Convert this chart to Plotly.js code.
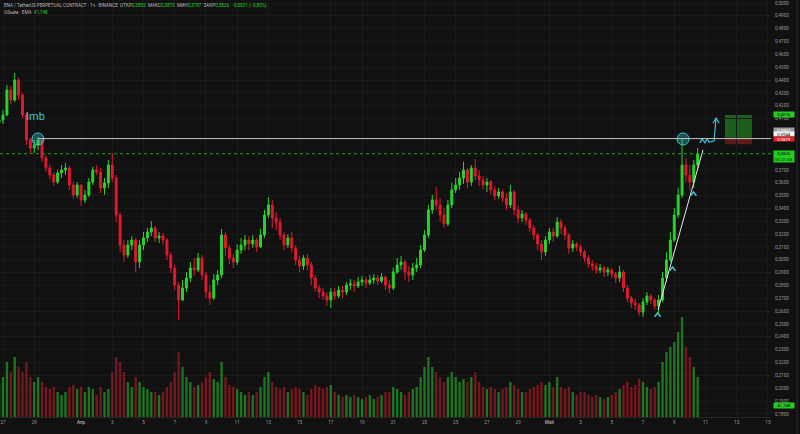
<!DOCTYPE html>
<html><head><meta charset="utf-8">
<script src="https://cdn.plot.ly/plotly-3.0.1.min.js"></script>
<style>html,body{margin:0;padding:0;background:#111111;}#chart{width:800px;height:434px;}</style>
</head><body><div id="chart"></div>
<script>
// ---- data (6h candles, ENA/USDT) ----
const startTimeUTC = [2025, 2, 26, 18];
const candleHours = 6;
const firstOpen = 0.4070;
const closes = [
0.4089,0.4128,0.4322,0.4245,0.4400,0.4283,0.4128,0.3933,0.3871,0.3894,
0.3933,0.3793,0.3715,0.3660,0.3606,0.3676,0.3699,0.3715,0.3583,0.3505,
0.3583,0.3466,0.3505,0.3606,0.3699,0.3684,0.3559,0.3598,0.3738,0.3637,
0.3349,0.3115,0.3037,0.3115,0.3154,0.2983,0.3115,0.3170,0.3217,0.3248,
0.3170,0.3185,0.3154,0.3037,0.2936,0.2804,0.2687,0.2780,0.2858,0.2936,
0.2921,0.3014,0.2882,0.2749,0.2702,0.2843,0.2882,0.3193,0.3092,0.3014,
0.2983,0.3076,0.3115,0.3154,0.3123,0.3154,0.3100,0.3193,0.3349,0.3427,
0.3326,0.3294,0.3193,0.3115,0.3170,0.3092,0.2998,0.2952,0.3014,0.2960,
0.2858,0.2780,0.2749,0.2718,0.2687,0.2749,0.2718,0.2765,0.2749,0.2804,
0.2812,0.2796,0.2827,0.2843,0.2819,0.2843,0.2858,0.2835,0.2866,0.2804,
0.2780,0.2905,0.2960,0.2983,0.2905,0.2882,0.2936,0.2960,0.3076,0.3193,
0.3388,0.3466,0.3427,0.3349,0.3279,0.3427,0.3544,0.3583,0.3637,0.3699,
0.3606,0.3715,0.3653,0.3621,0.3583,0.3606,0.3544,0.3497,0.3528,0.3481,
0.3427,0.3528,0.3388,0.3326,0.3357,0.3310,0.3248,0.3193,0.3123,0.3061,
0.3154,0.3217,0.3185,0.3294,0.3248,0.3193,0.3092,0.3123,0.3100,0.3061,
0.3014,0.2967,0.2952,0.2921,0.2936,0.2905,0.2921,0.2889,0.2858,0.2905,
0.2780,0.2702,0.2664,0.2648,0.2593,0.2671,0.2718,0.2687,0.2640,0.2687,
0.2858,0.2998,0.3154,0.3349,0.3505,0.3738,0.3660,0.3606,0.3738,0.3826];
const highs = [
0.4151,0.4167,0.4361,0.4354,0.4455,0.4416,0.4300,0.4143,0.3949,0.3933,
0.3956,0.3933,0.3816,0.3738,0.3684,0.3699,0.3738,0.3754,0.3731,0.3606,
0.3606,0.3583,0.3544,0.3637,0.3723,0.3738,0.3715,0.3637,0.3777,0.3832,
0.3660,0.3372,0.3154,0.3154,0.3185,0.3170,0.3154,0.3217,0.3248,0.3302,
0.3263,0.3217,0.3209,0.3170,0.3061,0.2960,0.2827,0.2843,0.2905,0.2983,
0.3014,0.3053,0.3037,0.2905,0.2804,0.2889,0.2921,0.3240,0.3217,0.3115,
0.3045,0.3123,0.3170,0.3193,0.3185,0.3193,0.3170,0.3240,0.3388,0.3489,
0.3466,0.3372,0.3326,0.3217,0.3201,0.3217,0.3115,0.3030,0.3037,0.3045,
0.2983,0.2882,0.2804,0.2780,0.2749,0.2780,0.2780,0.2796,0.2796,0.2827,
0.2850,0.2843,0.2866,0.2874,0.2866,0.2882,0.2889,0.2882,0.2897,0.2874,
0.2843,0.2936,0.3014,0.3030,0.2998,0.2952,0.2975,0.3014,0.3115,0.3232,
0.3427,0.3505,0.3567,0.3481,0.3403,0.3466,0.3598,0.3637,0.3684,0.3762,
0.3715,0.3738,0.3785,0.3699,0.3653,0.3637,0.3621,0.3575,0.3559,0.3544,
0.3520,0.3583,0.3544,0.3419,0.3388,0.3372,0.3326,0.3271,0.3209,0.3154,
0.3185,0.3248,0.3248,0.3333,0.3318,0.3271,0.3209,0.3154,0.3139,0.3123,
0.3076,0.3037,0.2998,0.2975,0.2967,0.2952,0.2944,0.2936,0.2905,0.2952,
0.2921,0.2804,0.2718,0.2695,0.2664,0.2702,0.2749,0.2734,0.2702,0.2726,
0.2905,0.3061,0.3217,0.3403,0.3559,0.3941,0.3793,0.3738,0.3777,0.3871];
const lows = [
0.4034,0.4058,0.4120,0.4213,0.4229,0.4245,0.4104,0.3894,0.3832,0.3832,
0.3855,0.3762,0.3684,0.3621,0.3575,0.3590,0.3637,0.3660,0.3544,0.3474,
0.3481,0.3419,0.3442,0.3489,0.3583,0.3660,0.3520,0.3505,0.3559,0.3606,
0.3294,0.3061,0.2983,0.3014,0.3076,0.2905,0.2936,0.3076,0.3139,0.3185,
0.3139,0.3131,0.3115,0.2998,0.2897,0.2765,0.2531,0.2680,0.2749,0.2827,
0.2874,0.2905,0.2843,0.2702,0.2648,0.2687,0.2804,0.2858,0.3030,0.2967,
0.2936,0.2960,0.3045,0.3076,0.3076,0.3092,0.3061,0.3092,0.3170,0.3326,
0.3248,0.3232,0.3154,0.3076,0.3092,0.3061,0.2960,0.2905,0.2921,0.2921,
0.2804,0.2749,0.2702,0.2687,0.2640,0.2625,0.2687,0.2702,0.2702,0.2726,
0.2765,0.2749,0.2780,0.2796,0.2780,0.2804,0.2812,0.2804,0.2819,0.2765,
0.2741,0.2765,0.2889,0.2921,0.2843,0.2827,0.2843,0.2905,0.2936,0.3061,
0.3170,0.3357,0.3388,0.3294,0.3248,0.3263,0.3403,0.3520,0.3544,0.3590,
0.3559,0.3575,0.3621,0.3575,0.3544,0.3528,0.3512,0.3466,0.3474,0.3450,
0.3388,0.3403,0.3349,0.3287,0.3294,0.3271,0.3217,0.3154,0.3076,0.2998,
0.3030,0.3123,0.3139,0.3170,0.3201,0.3154,0.3045,0.3061,0.3069,0.3030,
0.2983,0.2936,0.2913,0.2889,0.2897,0.2866,0.2874,0.2858,0.2819,0.2827,
0.2749,0.2671,0.2625,0.2609,0.2562,0.2555,0.2648,0.2656,0.2609,0.2578,
0.2671,0.2827,0.2983,0.3139,0.3326,0.3481,0.3606,0.3544,0.3559,0.3715];
// volume, millions ENA per candle
const volumes = [
35,40,55,45,60,50,45,55,40,35,
40,35,30,28,30,25,22,25,30,32,
28,30,25,30,28,22,30,25,28,45,
60,55,45,35,30,40,35,30,28,25,
25,22,25,30,35,45,65,50,40,35,
30,32,35,40,45,38,35,55,40,32,
30,28,25,22,25,22,25,30,40,45,
35,30,28,30,25,28,30,28,25,22,
28,32,30,28,30,32,25,22,20,22,
20,22,20,18,20,22,18,20,22,25,
25,30,28,25,22,25,28,30,40,50,
60,50,45,40,35,40,45,40,35,38,
35,40,45,35,30,28,30,28,25,28,
30,35,32,28,25,25,28,30,32,35,
32,35,30,40,30,28,30,25,22,25,
25,22,20,22,20,18,20,22,25,28,
32,35,30,32,38,35,30,28,30,35,
55,65,70,75,85,100,70,60,50,40];

// axis ticks
const priceTicks = [0.18,0.19,0.20,0.21,0.22,0.23,0.24,0.25,0.26,0.27,0.28,0.29,0.30,0.31,0.32,0.33,0.34,0.35,0.36,0.37,0.41,0.42,0.43,0.44,0.45,0.46,0.47,0.48,0.49,0.50];
const tickDates = ['2025-03-27','2025-03-29','2025-04-01','2025-04-03','2025-04-05','2025-04-07','2025-04-09','2025-04-11','2025-04-13','2025-04-15','2025-04-17','2025-04-19','2025-04-21','2025-04-23','2025-04-25','2025-04-27','2025-04-29','2025-05-01','2025-05-03','2025-05-05','2025-05-07','2025-05-09','2025-05-11','2025-05-13','2025-05-15'];
const tickLabels = ['27','29','<b>Апр</b>','3','5','7','9','11','13','15','17','19','21','23','25','27','29','<b>Май</b>','3','5','7','9','11','13','15'];

// drawing tools
const levelPrice = 0.3944, levelStart = '2025-03-29 05:45';
const currentPrice = 0.3826;
const touchTimes = ['2025-03-29 05:45', '2025-05-09 13:30'];
const touchPrices = [0.3941, 0.3941];
const trendTimes = ['2025-05-07 23:00', '2025-05-10 20:10'];
const trendPrices = [0.2609, 0.3855];
const pivotTimes = ['2025-05-07 22:20', '2025-05-08 21:20', '2025-05-10 05:30'];
const pivotPrices = [0.2586, 0.2944, 0.3528];
const pathTimes = ['2025-05-10 15:36','2025-05-10 18:45','2025-05-10 23:20','2025-05-11 02:25','2025-05-11 05:30','2025-05-11 13:10','2025-05-11 16:20'];
const pathPrices = [0.3910, 0.3941, 0.3910, 0.3941, 0.3917, 0.3925, 0.4104];
const boxTimes = ['2025-05-12 06:00', '2025-05-13 23:30'];
const targetPrice = 0.4128, entryPrice = 0.3950, stopPrice = 0.3900;
const imbLabel = {text: 'Imb', time: '2025-03-29 02:40', price: 0.4120};

// ---- build ----
const times = closes.map((_, i) => {
  const d = new Date(Date.UTC(startTimeUTC[0], startTimeUTC[1], startTimeUTC[2], startTimeUTC[3]) + i * candleHours * 3600e3);
  return d.toISOString().slice(0, 16).replace('T', ' ');
});
const opens = closes.map((c, i) => i === 0 ? firstOpen : closes[i - 1]);
const GREEN = '#26d62c', RED = '#e3192e', CYAN = '#3cc6d2';
const volColors = closes.map((c, i) => c >= opens[i] ? 'rgba(34,180,40,0.62)' : 'rgba(180,26,40,0.62)');

function toMs(s) { return new Date(s.replace(' ', 'T') + ':00Z').getTime(); }
function fromMs(ms) { return new Date(ms).toISOString().slice(0, 16).replace('T', ' '); }
const H = 3600e3;

const traces = [];
traces.push({type: 'bar', x: times, y: volumes, yaxis: 'y', marker: {color: volColors, line: {width: 0}}, hoverinfo: 'skip', showlegend: false});
traces.push({type: 'candlestick', x: times, open: opens, high: highs, low: lows, close: closes, yaxis: 'y2',
  increasing: {line: {color: GREEN, width: 1}, fillcolor: GREEN},
  decreasing: {line: {color: RED, width: 1}, fillcolor: RED},
  whiskerwidth: 0, hoverinfo: 'skip', showlegend: false});
// trend line
traces.push({type: 'scatter', mode: 'lines', x: trendTimes, y: trendPrices, yaxis: 'y2', line: {color: '#e8e8e8', width: 1}, hoverinfo: 'skip', showlegend: false});
// touch circles
traces.push({type: 'scatter', mode: 'markers', x: touchTimes, y: touchPrices, yaxis: 'y2',
  marker: {symbol: 'circle', size: 12, color: 'rgba(60,198,210,0.35)', line: {color: CYAN, width: 1}}, hoverinfo: 'skip', showlegend: false});
// pivot chevrons
const chevX = [], chevY = [];
pivotTimes.forEach((t, k) => {
  const m = toMs(t), p = pivotPrices[k];
  chevX.push(fromMs(m - 4.6 * H), t, fromMs(m + 4.6 * H), null);
  chevY.push(p - 0.0030, p, p - 0.0030, null);
});
traces.push({type: 'scatter', mode: 'lines', x: chevX, y: chevY, yaxis: 'y2', line: {color: CYAN, width: 1.5}, hoverinfo: 'skip', showlegend: false, connectgaps: false});
// projected path + arrow head
const tipT = pathTimes[pathTimes.length - 1], tipP = pathPrices[pathPrices.length - 1], tipM = toMs(tipT);
traces.push({type: 'scatter', mode: 'lines', x: pathTimes, y: pathPrices, yaxis: 'y2', line: {color: CYAN, width: 1.2}, hoverinfo: 'skip', showlegend: false});
traces.push({type: 'scatter', mode: 'lines', x: [fromMs(tipM - 4.6 * H), tipT, fromMs(tipM + 4.6 * H)], y: [tipP - 0.0040, tipP, tipP - 0.0040], yaxis: 'y2', line: {color: CYAN, width: 1.2}, hoverinfo: 'skip', showlegend: false});

const PLOT_H = 417;
const py = v => 1 - v / PLOT_H; // pixel row -> paper y

const priceTags = [
  {text: '0,4016', row: 114.5, h: 5, bg: '#22cc22', fg: '#0b0b0b'},
  {text: '0,3967', row: 129.8, h: 4.2, bg: '#9c9c9c', fg: '#ffffff'},
  {text: '0,3944', row: 134.2, h: 4.2, bg: '#f2f2f2', fg: '#111111'},
  {text: '0,3879', row: 138.6, h: 4.2, bg: '#e02424', fg: '#ffffff'},
  {text: '0,3826<br>01:21:53', row: 156.5, h: 10.5, bg: '#22cc22', fg: '#0b0b0b'},
  {text: '41,748', row: 405.5, h: 5, bg: '#22cc22', fg: '#0b0b0b'}
];

const annotations = priceTags.map(t => ({xref: 'paper', yref: 'paper', x: 1, y: py(t.row), xanchor: 'left', yanchor: 'middle', xshift: 2,
  text: t.text, showarrow: false, bgcolor: t.bg, borderpad: 0, font: {family: 'Roboto, Arial', size: 4.4, color: t.fg}, width: 20, height: t.h, align: 'center', valign: 'middle'}));

annotations.push({xref: 'x', yref: 'y2', x: imbLabel.time, y: imbLabel.price, text: imbLabel.text, showarrow: false,
  font: {family: 'Roboto, Arial', size: 11, color: CYAN}, xanchor: 'center', yanchor: 'middle'});

const G = '#24d12c';
annotations.push({xref: 'paper', yref: 'paper', x: 0.003, y: py(5), xanchor: 'left', yanchor: 'middle', showarrow: false, align: 'left',
  font: {family: 'Roboto, Arial', size: 4.6, color: '#b8b8b8'},
  text: 'ENA / TetherUS PERPETUAL CONTRACT · 1ч · BINANCE  ОТКР<span style="color:' + G + '">0,3805</span>  МАКС<span style="color:' + G + '">0,3873</span>  МИН<span style="color:' + G + '">0,3787</span>  ЗАКР<span style="color:' + G + '">0,3826</span>  <span style="color:' + G + '">−0,0031 (−0,80%)</span>'});
annotations.push({xref: 'paper', yref: 'paper', x: 0.003, y: py(12), xanchor: 'left', yanchor: 'middle', showarrow: false, align: 'left',
  font: {family: 'Roboto, Arial', size: 4.6, color: '#b8b8b8'},
  text: 'Объём · EMA  <span style="color:' + G + '">41,748</span>'});

const shapes = [
  {type: 'line', xref: 'x', yref: 'y2', x0: levelStart, x1: '2025-05-16 00:00', y0: levelPrice, y1: levelPrice, line: {color: '#c4c4c4', width: 1}},
  {type: 'line', xref: 'paper', yref: 'y2', x0: 0, x1: 1, y0: currentPrice, y1: currentPrice, line: {color: '#1f9e26', width: 1, dash: 'dot'}},
  {type: 'rect', xref: 'x', yref: 'y2', x0: boxTimes[0], x1: boxTimes[1], y0: entryPrice, y1: targetPrice, fillcolor: 'rgba(34,120,34,0.75)', line: {width: 0}, layer: 'below'},
  {type: 'rect', xref: 'x', yref: 'y2', x0: boxTimes[0], x1: boxTimes[1], y0: stopPrice, y1: entryPrice, fillcolor: 'rgba(120,30,30,0.75)', line: {width: 0}, layer: 'below'},
  {type: 'line', xref: 'paper', yref: 'paper', x0: 797 / 771, x1: 797 / 771, y0: -0.05, y1: 1, line: {color: '#2a2a2a', width: 1}}
];

const layout = {
  width: 800, height: 434,
  margin: {l: 0, r: 29, t: 0, b: 17, pad: 0},
  paper_bgcolor: '#111111', plot_bgcolor: '#111111',
  separators: ', ',
  showlegend: false,
  bargap: 0.4,
  xaxis: {type: 'date', range: ['2025-03-26 19:23', '2025-05-15 04:45'], rangeslider: {visible: false},
    tickvals: tickDates, ticktext: tickLabels, tickfont: {family: 'Roboto, Arial', size: 4.6, color: '#9a9a9a'},
    showgrid: true, gridcolor: '#191919', gridwidth: 1, zeroline: false, showline: true, linecolor: '#262626', ticks: '', fixedrange: true},
  yaxis: {range: [0, PLOT_H], visible: false, showgrid: false, zeroline: false, fixedrange: true},
  yaxis2: {overlaying: 'y', side: 'right', range: [0.17757, 0.50234], tickmode: 'array', tickvals: priceTicks, tickformat: '.4f',
    tickfont: {family: 'Roboto, Arial', size: 4.6, color: '#9a9a9a'}, showgrid: true, gridcolor: '#191919', gridwidth: 1,
    zeroline: false, ticks: '', ticklabelstandoff: 3, showline: false, fixedrange: true},
  shapes: shapes,
  annotations: annotations
};

Plotly.newPlot('chart', traces, layout, {displayModeBar: false, staticPlot: true});
</script>
</body></html>
